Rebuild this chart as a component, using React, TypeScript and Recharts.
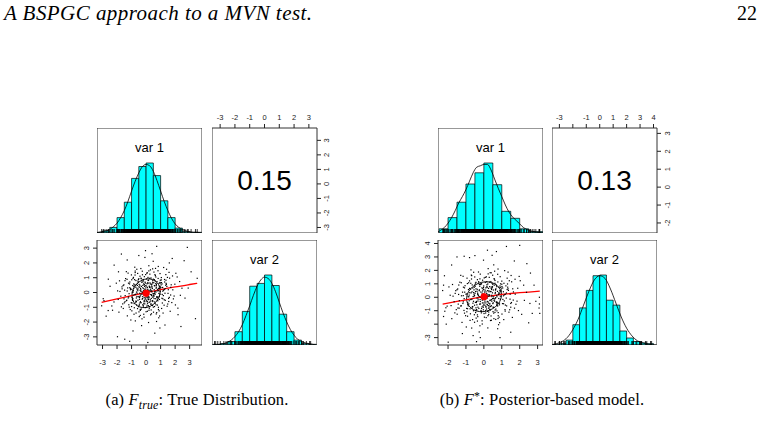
import React from 'react';
import { ComposedChart, XAxis, YAxis, Scatter, Line, ReferenceArea, ReferenceDot } from 'recharts';

type Pt = [number, number];

// ---------- shared labels ----------
const varNames = ['var 1', 'var 2'];
const headerTitle = 'A BSPGC approach to a MVN test.';
const pageNumber = '22';

// ---------- figure (a): true distribution ----------
const pointsA: Pt[] = [
  [0.12,-0.35],[-0.84,0.41],[1.27,0.88],[-0.33,-1.12],[0.56,0.19],[-1.45,-0.62],[0.08,1.34],[0.91,-0.27],[-0.62,-0.05],[1.73,0.52],
  [-0.21,0.73],[0.44,-0.88],[-1.08,0.26],[0.29,-0.14],[2.14,1.05],[-0.47,-1.63],[0.67,0.61],[-1.92,-0.47],[0.03,0.02],[1.12,-0.71],
  [-0.76,1.18],[0.38,0.44],[-0.15,-0.58],[1.51,-0.06],[-1.31,0.89],[0.82,1.47],[-0.54,-0.29],[0.17,-2.03],[-2.36,-0.91],[0.61,0.07],
  [1.02,0.33],[-0.09,-0.77],[-0.98,-1.24],[0.25,0.96],[1.88,-0.43],[-0.41,0.15],[0.73,-1.36],[-1.66,0.38],[0.49,2.11],[-0.27,-0.11],
  [0.95,0.68],[-0.68,0.54],[0.14,-0.44],[-1.19,-0.83],[1.36,1.21],[-0.02,0.31],[0.58,-0.95],[-0.89,-0.18],[2.47,0.29],[-0.36,1.62],
  [0.31,-1.51],[-1.57,-1.08],[0.86,0.12],[-0.18,0.84],[1.19,-0.21],[-0.71,-0.66],[0.06,-0.31],[1.62,0.97],[-2.05,0.63],[0.42,0.58],
  [-0.52,-0.96],[0.77,-0.52],[-0.12,1.07],[1.43,0.41],[-0.95,0.02],[0.21,-0.67],[-1.36,1.41],[0.64,1.14],[-0.31,-2.24],[1.07,-1.08],
  [-0.06,0.47],[0.52,-0.19],[-1.74,-0.25],[0.98,0.83],[-0.44,0.36],[0.35,-1.18],[2.02,-0.84],[-0.83,-1.47],[0.11,0.22],[-1.12,0.71],
  [0.69,0.29],[-0.24,-0.41],[1.56,-0.61],[-0.58,1.29],[0.27,0.65],[-1.23,-0.37],[0.88,-0.06],[-0.04,-1.02],[1.21,1.69],[-2.61,-1.22],
  [0.47,-0.33],[-0.79,0.87],[0.19,1.81],[-0.37,0.09],[1.66,-1.27],[-1.48,0.16],[0.62,-0.74],[0.01,-0.23],[-0.65,-0.84],[1.31,0.26],
  [-0.17,0.58],[0.83,0.95],[-1.02,-0.69],[0.39,0.11],[-0.49,-1.31],[2.31,0.74],[0.16,-0.89],[-0.92,0.47],[1.09,-0.39],[-0.11,-0.15],
  [0.54,1.38],[-1.61,-0.77],[0.74,-0.28],[-0.29,0.68],[1.38,0.62],[-0.73,-0.12],[0.23,0.39],[-1.29,-1.58],[0.93,-1.59],[-0.08,2.37],
  [1.84,0.18],[-0.45,-0.46],[0.33,-0.57],[-0.87,1.02],[0.71,0.36],[-1.96,0.11],[0.09,-1.27],[1.24,-0.86],[-0.55,0.24],[0.45,0.79],
  [-0.34,-0.69],[1.47,1.02],[-1.14,0.58],[0.18,0.05],[0.87,-1.71],[-0.64,1.57],[0.58,-0.08],[-2.21,-0.64],[1.03,0.51],[-0.19,-0.97],
  [0.66,-0.42],[-0.96,-0.33],[0.04,0.92],[1.69,-0.17],[-0.43,0.49],[0.37,-1.44],[-1.41,0.94],[0.8,0.21],[-0.1,-0.52],[2.68,-0.38],
  [-0.66,0.03],[0.26,1.24],[-1.05,-1.86],[1.15,0.09],[-0.23,0.32],[0.5,-0.99],[-1.83,0.79],[0.96,1.28],[-0.38,-0.23],[0.13,0.61],
  [1.32,-0.53],[-0.81,-1.03],[0.43,0.27],[-0.14,-1.67],[0.75,0.74],[-1.27,0.31],[1.98,0.56],[-0.5,0.93],[0.2,-0.36],[-0.93,-0.53],
  [0.6,0.45],[-0.26,1.44],[1.11,-0.13],[-1.7,-0.97],[0.32,-0.79],[-0.6,0.62],[0.85,-1.15],[-0.02,0.16],[1.58,1.36],[-1.17,-0.08],
  [0.41,2.62],[-0.39,-0.62],[0.99,0.38],[-0.74,-1.92],[0.15,-0.04],[1.28,0.71],[-1.53,0.52],[0.55,-0.24],[-0.3,0.79],[2.19,-1.06],
  [-0.85,0.28],[0.28,-0.48],[-0.07,0.7],[1.45,-0.93],[-1.01,1.19],[0.68,0.03],[-0.47,-0.26],[0.1,-0.73],[-2.48,0.42],[0.89,0.61],
  [-0.2,-0.88],[0.57,0.87],[-1.33,-0.52],[1.05,1.01],[-0.61,0.19],[0.3,1.53],[1.77,-0.68],[-0.97,-0.71],[0.02,0.44],[0.72,-1.96],
  [-0.42,1.1],[1.2,0.15],[-1.8,0.07],[0.46,-0.61],[-0.13,-0.35],[0.84,1.76],[-0.69,-1.39],[0.24,0.34],[1.6,-0.33],[-1.21,0.63],
  [0.05,-0.98],[-0.56,0.77],[0.92,-0.47],[-0.25,0.01],[1.35,0.49],[-1.09,-1.15],[0.36,0.55],[-0.78,1.71],[0.63,-0.11],[-0.03,1.21],
  [2.05,1.3],[-0.46,-0.79],[0.17,0.83],[-1.44,-0.21],[0.78,-0.85],[-0.16,-1.47],[1.1,0.58],[-0.88,0.13],[0.4,0.04],[-2.9,-0.55],
  [0.67,1.05],[-0.32,0.41],[1.25,-0.49],[-0.7,-0.58],[0.07,-0.6],[0.94,0.27],[-1.24,1.31],[0.51,-1.33],[-0.12,0.54],[1.53,0.19],
  [-0.59,-1.09],[0.27,0.14],[-1.58,0.47],[0.8,-0.31],[-0.05,-0.44],[1.41,1.57],[-0.91,-0.41],[0.34,0.98],[-0.4,-1.21],[1.93,-0.24],
  [0.12,0.67],[-1.07,0.19],[0.7,0.48],[-0.22,-0.82],[1.17,-1.39],[-0.53,0.88],[0.48,-0.07],[-1.87,-1.33],[0.97,0.07],[-0.16,0.26],
  [0.59,-0.64],[-0.75,1.35],[0.22,-1.07],[1.37,0.83],[-1.35,-0.55],[0.06,0.59],[0.81,-0.37],[-0.44,-0.05],[1.82,1.12],[-0.99,0.86],
  [0.33,0.36],[-0.28,-1.78],[1.06,0.67],[-0.63,0.29],[0.14,-0.26],[-1.52,-0.43],[0.65,1.63],[-0.09,-0.62],[1.49,-0.78],[-0.8,0.51],
  [0.38,-0.15],[-0.35,0.97],[2.36,-0.19],[-1.16,-0.99],[0.53,0.66],[-0.18,0.12],[0.9,-1.24],[-0.67,-0.37],[0.19,1.46],[1.14,0.34],
  [0.31,0.22],[-0.22,0.48],[0.55,-0.41],[-0.63,-0.27],[0.14,0.81],[-0.41,-0.69],[0.77,0.11],[-0.85,0.58],[0.03,-0.52],[0.46,0.67],
  [-0.12,-0.18],[0.68,-0.83],[-0.57,0.12],[0.24,-0.97],[-0.33,0.93],[0.92,0.42],[-0.94,-0.48],[0.09,0.35],[-0.27,-0.45],[0.59,0.03],
  [-0.71,0.36],[0.38,-0.21],[-0.05,0.64],[0.81,-0.56],[-0.48,-0.88],[0.18,0.15],[-0.89,0.03],[0.5,0.9],[-0.16,-0.73],[0.71,0.55],
  [-0.38,0.27],[0.27,-0.63],[-0.78,-0.15],[0.13,1.02],[-0.53,0.71],[0.96,-0.12],[-0.02,-0.36],[0.42,0.37],[-0.67,-0.61],[0.2,-0.3],
  [-0.29,0.05],[0.62,0.79],[-0.99,0.22],[0.35,-0.78],[-0.1,0.41],[0.86,0.28],[-0.45,-0.34],[0.07,-0.86],[-0.6,0.48],[0.52,-0.09],
  [-0.2,0.88],[0.74,-0.33],[-0.82,-0.75],[0.29,0.58],[-0.35,-0.12],[0.98,0.64],[-0.7,0.81],[0.16,-0.48],[-0.08,0.2],[0.45,-0.55],
  [1.15,-0.42],[-1.12,0.33],[0.61,1.21],[-0.4,-1.15],[1.25,0.2],[-1.2,-0.3],[0.2,-1.2],[-0.25,1.2],[1.05,0.85],[-1.0,-0.95],
  [0.85,-1.0],[-0.9,0.95],[1.3,-0.05],[-1.3,0.1],[0.05,1.3],[0.0,-1.3],[0.57,0.47],[-0.48,0.55],[0.36,-0.4],[-0.56,-0.52],
  [0.12,0.05],[-0.14,-0.02],[0.33,0.1],[-0.36,0.18],[0.02,-0.15],[0.22,0.43],[-0.23,-0.28],[0.48,-0.25],[-0.5,0.38],[0.08,-0.62],
  [1.4,0.55],[-1.45,0.8],[0.7,-1.45],[-0.75,1.45],[1.55,-0.4],[-1.5,-0.7],[0.45,1.6],[-0.4,-1.55],[1.7,0.35],[-1.65,0.25],
  [3.52,0.96],[2.84,3.05],[0.73,3.12],[-0.04,2.83],[-1.47,-3.16],[-1.13,-3.3],[0.12,-3.38],[-1.97,-2.99],[-2.95,-0.42],[-2.31,-1.2],
  [3.4,-1.77],[2.62,2.15],[-3.06,-0.9],[-2.2,1.85],[2.4,-2.3],[-1.7,2.6],[1.8,2.3],[-0.9,-2.6],[0.6,-2.75],[2.9,0.3],
  [-2.6,0.9],[-1.3,2.2],[1.3,-2.2],[3.1,1.4],[-0.5,2.5],[0.95,-2.4],[-2.75,-1.6],[2.2,-1.5],[-1.9,1.4],[1.6,2.0],
];
const corrA = 0.15;
const meanA: Pt = [0.0, -0.05];
const smoothA: Pt[] = [[-3.06,-0.66],[-2,-0.43],[-1,-0.21],[0,0.0],[1,0.2],[2,0.38],[3,0.54],[3.52,0.62]];
const ellipseA: Pt[] = [
  [0.758,0.758],[0.451,0.95],[0.075,0.997],[-0.312,0.893],[-0.652,0.652],[-0.893,0.312],[-0.997,-0.075],[-0.95,-0.451],
  [-0.758,-0.758],[-0.451,-0.95],[-0.075,-0.997],[0.312,-0.893],[0.652,-0.652],[0.893,-0.312],[0.997,0.075],[0.95,0.451],
];
const breaksVar1A = [-3.5,-3,-2.5,-2,-1.5,-1,-0.5,0,0.5,1,1.5,2,2.5,3,3.5,4];
const heightsVar1A = [0.01,0.03,0.08,0.22,0.44,0.78,0.95,1.0,0.82,0.46,0.22,0.07,0.02,0.01,0.01];
const densityVar1A: Pt[] = [
  [-3.5,0.0],[-3.25,0.01],[-3,0.02],[-2.75,0.03],[-2.5,0.05],[-2.25,0.09],[-2,0.14],[-1.75,0.22],[-1.5,0.32],[-1.25,0.45],
  [-1,0.6],[-0.75,0.74],[-0.5,0.86],[-0.25,0.95],[0,0.98],[0.25,0.96],[0.5,0.88],[0.75,0.75],[1,0.6],[1.25,0.45],
  [1.5,0.32],[1.75,0.21],[2,0.13],[2.25,0.08],[2.5,0.05],[2.75,0.03],[3,0.02],[3.25,0.01],[3.5,0.01],[3.8,0.0],
];
const breaksVar2A = [-3.5,-3,-2.5,-2,-1.5,-1,-0.5,0,0.5,1,1.5,2,2.5,3,3.5];
const heightsVar2A = [0.01,0.02,0.05,0.19,0.48,0.84,0.88,1.0,0.85,0.44,0.19,0.07,0.02,0.01];
const densityVar2A: Pt[] = [
  [-3.5,0.0],[-3,0.01],[-2.75,0.02],[-2.5,0.04],[-2.25,0.07],[-2,0.12],[-1.75,0.19],[-1.5,0.29],[-1.25,0.42],[-1,0.56],
  [-0.75,0.71],[-0.5,0.84],[-0.25,0.93],[0,0.97],[0.25,0.95],[0.5,0.88],[0.75,0.76],[1,0.61],[1.25,0.46],[1.5,0.33],
  [1.75,0.22],[2,0.14],[2.25,0.08],[2.5,0.05],[2.75,0.03],[3,0.02],[3.25,0.01],[3.5,0.0],
];
const ticksVar1A = [-3,-2,-1,0,1,2,3];
const ticksVar2A = [-3,-2,-1,0,1,2,3];
const captionA = { tag: '(a)', sym: 'F', sub: 'true', sup: '', text: ': True Distribution.' };

// ---------- figure (b): posterior-based model ----------
const pointsB: Pt[] = [
  [0.25,-0.62],[-0.71,0.33],[1.12,1.04],[-0.42,-0.91],[0.63,0.27],[-1.38,-0.81],[0.14,1.52],[0.87,-0.44],[-0.55,0.08],[1.61,0.63],
  [-0.18,0.95],[0.51,-1.07],[-1.15,0.12],[0.36,-0.21],[2.03,1.23],[-0.52,-1.86],[0.72,0.79],[-1.83,-0.62],[0.09,0.17],[1.18,-0.92],
  [-0.69,1.36],[0.43,0.58],[-0.1,-0.71],[1.46,-0.14],[-1.26,1.08],[0.77,1.71],[-0.47,-0.38],[0.22,-2.28],[-2.18,-1.04],[0.66,-0.03],
  [0.97,0.47],[-0.03,-0.93],[-0.91,-1.41],[0.31,1.13],[1.79,-0.52],[-0.35,0.24],[0.79,-1.58],[-1.57,0.49],[0.55,2.41],[-0.21,-0.17],
  [0.9,0.84],[-0.62,0.69],[0.19,-0.55],[-1.11,-0.98],[1.3,1.42],[0.04,0.39],[0.62,-1.12],[-0.82,-0.26],[2.38,0.37],[-0.3,1.88],
  [0.37,-1.73],[-1.49,-1.26],[0.81,0.2],[-0.13,1.01],[1.14,-0.27],[-0.65,-0.79],[0.11,-0.42],[1.55,1.15],[-1.95,0.77],[0.47,0.71],
  [-0.46,-1.14],[0.73,-0.63],[-0.07,1.27],[1.37,0.51],[-0.88,0.04],[0.26,-0.81],[-1.29,1.63],[0.59,1.35],[-0.26,-2.58],[1.01,-1.25],
  [-0.01,0.57],[0.57,-0.24],[-1.66,-0.33],[0.93,1.0],[-0.38,0.45],[0.4,-1.39],[1.93,-0.99],[-0.77,-1.72],[0.16,0.28],[-1.05,0.86],
  [0.64,0.36],[-0.19,-0.5],[1.5,-0.74],[-0.51,1.51],[0.32,0.79],[-1.17,-0.46],[0.83,-0.09],[0.01,-1.21],[1.16,1.98],[-2.25,-1.43],
  [0.52,-0.41],[-0.73,1.04],[0.24,2.13],[-0.31,0.13],[1.59,-1.5],[-1.41,0.21],[0.67,-0.88],[0.06,-0.29],[-0.58,-1.0],[1.26,0.32],
  [-0.11,0.7],[0.78,1.14],[-0.96,-0.83],[0.44,0.15],[-0.43,-1.55],[2.22,0.9],[0.21,-1.05],[-0.86,0.57],[1.04,-0.47],[-0.06,-0.19],
  [0.49,1.64],[-1.54,-0.92],[0.7,-0.35],[-0.23,0.82],[1.33,0.75],[-0.67,-0.15],[0.28,0.48],[-1.22,-1.87],[0.88,-1.89],[-0.02,2.76],
  [1.75,0.23],[-0.39,-0.56],[0.38,-0.69],[-0.8,1.22],[0.76,0.44],[-1.88,0.15],[0.13,-1.51],[1.19,-1.03],[-0.49,0.3],[0.5,0.95],
  [-0.28,-0.83],[1.42,1.23],[-1.08,0.7],[0.23,0.07],[0.82,-2.04],[-0.57,1.86],[0.63,-0.1],[-2.12,-0.78],[0.98,0.62],[-0.14,-1.16],
  [0.71,-0.51],[-0.9,-0.4],[0.08,1.1],[1.64,-0.21],[-0.37,0.59],[0.42,-1.71],[-1.34,1.12],[0.85,0.26],[-0.04,-0.63],[2.57,-0.46],
  [-0.6,0.05],[0.3,1.48],[-0.98,-2.21],[1.09,0.11],[-0.17,0.39],[0.55,-1.18],[-1.75,0.95],[0.91,1.53],[-0.33,-0.28],[0.18,0.73],
  [1.27,-0.64],[-0.75,-1.23],[0.48,0.33],[-0.09,-1.99],[0.7,0.89],[-1.19,0.38],[1.89,0.67],[-0.44,1.11],[0.25,-0.43],[-0.87,-0.64],
  [0.65,0.54],[-0.2,1.72],[1.06,-0.16],[-1.62,-1.16],[0.36,-0.95],[-0.54,0.74],[0.8,-1.37],[0.03,0.19],[1.52,1.62],[-1.1,-0.1],
  [0.46,3.12],[-0.33,-0.74],[0.94,0.46],[-0.68,-2.29],[0.2,-0.05],[1.23,0.85],[-1.46,0.62],[0.6,-0.29],[-0.25,0.95],[2.11,-1.27],
  [-0.79,0.34],[0.33,-0.57],[-0.01,0.84],[1.4,-1.11],[-0.94,1.42],[0.73,0.04],[-0.41,-0.31],[0.15,-0.87],[-2.3,0.5],[0.84,0.73],
  [-0.14,-1.05],[0.62,1.04],[-1.27,-0.62],[1.0,1.2],[-0.55,0.23],[0.35,1.83],[1.71,-0.81],[-0.91,-0.85],[0.07,0.53],[0.77,-2.34],
  [-0.36,1.31],[1.15,0.18],[-1.72,0.08],[0.51,-0.73],[-0.08,-0.42],[0.79,2.1],[-0.63,-1.66],[0.29,0.41],[1.54,-0.39],[-1.14,0.75],
  [0.1,-1.17],[-0.5,0.92],[0.87,-0.56],[-0.19,0.01],[1.3,0.58],[-1.02,-1.37],[0.41,0.66],[-0.72,2.04],[0.58,-0.13],[0.02,1.44],
  [1.97,1.55],[-0.4,-0.94],[0.22,0.99],[-1.37,-0.25],[0.73,-1.01],[-0.1,-1.75],[1.05,0.69],[-0.82,0.16],[0.45,0.05],[-2.05,-0.66],
  [0.62,1.25],[-0.26,0.49],[1.2,-0.58],[-0.64,-0.69],[0.12,-0.72],[0.89,0.32],[-1.16,1.56],[0.56,-1.59],[-0.06,0.64],[1.47,0.23],
  [-0.53,-1.3],[0.32,0.17],[-1.5,0.56],[0.75,-0.37],[0.0,-0.52],[1.35,1.87],[-0.84,-0.49],[0.39,1.17],[-0.34,-1.44],[1.85,-0.29],
  [0.17,0.8],[-1.0,0.23],[0.65,0.57],[-0.16,-0.98],[1.11,-1.66],[-0.47,1.05],[0.53,-0.08],[-1.79,-1.59],[0.92,0.08],[-0.1,0.31],
  [0.54,-0.76],[-0.68,1.61],[0.27,-1.28],[1.32,0.99],[-1.28,-0.66],[0.11,0.7],[0.76,-0.44],[-0.38,-0.06],[1.74,1.34],[-0.92,1.02],
  [0.38,0.43],[-0.22,-2.12],[1.01,0.8],[-0.57,0.35],[0.19,-0.31],[-1.43,-0.51],[0.6,1.94],[-0.03,-0.74],[1.44,-0.93],[-0.74,0.61],
  [0.43,-0.18],[-0.29,1.16],[2.26,-0.23],[-1.08,-1.18],[0.48,0.79],[-0.12,0.14],[0.85,-1.48],[-0.61,-0.44],[0.24,1.74],[1.09,0.41],
  [0.28,0.19],[-0.25,0.55],[0.5,-0.47],[-0.58,-0.3],[0.17,0.93],[-0.44,-0.78],[0.72,0.14],[-0.8,0.66],[0.06,-0.6],[0.41,0.76],
  [-0.09,-0.21],[0.63,-0.95],[-0.52,0.14],[0.27,-1.1],[-0.3,1.06],[0.88,0.48],[-0.9,-0.55],[0.12,0.4],[-0.24,-0.51],[0.55,0.04],
  [-0.66,0.41],[0.34,-0.24],[-0.02,0.73],[0.77,-0.64],[-0.45,-1.0],[0.21,0.17],[-0.84,0.04],[0.46,1.03],[-0.13,-0.83],[0.67,0.63],
  [-0.35,0.31],[0.3,-0.72],[-0.73,-0.17],[0.16,1.16],[-0.49,0.81],[0.92,-0.14],[0.01,-0.41],[0.39,0.42],[-0.62,-0.7],[0.23,-0.34],
  [-0.26,0.06],[0.58,0.9],[-0.95,0.25],[0.32,-0.89],[-0.07,0.47],[0.82,0.32],[-0.42,-0.39],[0.1,-0.98],[-0.55,0.55],[0.48,-0.1],
  [-0.17,1.0],[0.7,-0.38],[-0.77,-0.86],[0.26,0.66],[-0.32,-0.14],[0.94,0.73],[-0.65,0.92],[0.19,-0.55],[-0.05,0.23],[0.42,-0.63],
  [1.1,-0.48],[-1.07,0.38],[0.57,1.38],[-0.36,-1.31],[1.2,0.23],[-1.15,-0.34],[0.23,-1.37],[-0.22,1.37],[1.0,0.97],[-0.95,-1.08],
  [0.8,-1.14],[-0.85,1.08],[1.25,-0.06],[-1.25,0.11],[0.08,1.48],[0.03,-1.48],[0.53,0.54],[-0.44,0.63],[0.33,-0.46],[-0.52,-0.59],
  [0.14,0.06],[-0.11,-0.02],[0.3,0.11],[-0.33,0.21],[0.05,-0.17],[0.2,0.49],[-0.2,-0.32],[0.44,-0.29],[-0.46,0.43],[0.11,-0.71],
  [1.35,0.63],[-1.4,0.91],[0.66,-1.65],[-0.7,1.65],[1.5,-0.46],[-1.45,-0.8],[0.41,1.82],[-0.36,-1.77],[1.65,0.4],[-1.6,0.29],
  [3.1,0.0],[3.1,-0.5],[3.12,-1.2],[3.08,-0.8],[1.26,3.78],[2.0,3.86],[-1.5,3.0],[-1.1,3.05],[-0.8,2.95],[-0.5,3.1],
  [-1.99,-3.34],[-0.41,-3.3],[-0.6,-2.85],[0.9,-3.0],[-2.2,1.6],[-2.1,-2.0],[2.6,1.8],[2.5,-1.9],[2.8,0.9],[2.9,-0.3],
  [-1.8,2.4],[1.7,2.7],[0.2,3.5],[-2.25,0.9],[2.4,2.5],[-1.2,-2.7],[1.5,-2.6],[2.7,-1.2],[-0.2,-3.0],[0.7,3.4],
];
const corrB = 0.13;
const meanB: Pt = [0.01, 0.04];
const smoothB: Pt[] = [[-2.3,-0.51],[-1.5,-0.31],[-1,-0.19],[-0.5,-0.07],[0,0.04],[0.5,0.13],[1,0.21],[1.5,0.28],[2,0.34],[2.5,0.39],[3.12,0.46]];
const ellipseB: Pt[] = [
  [0.751,0.856],[0.441,1.08],[0.065,1.138],[-0.322,1.023],[-0.66,0.753],[-0.897,0.367],[-0.998,-0.074],[-0.947,-0.503],
  [-0.751,-0.856],[-0.441,-1.08],[-0.065,-1.138],[0.322,-1.023],[0.66,-0.753],[0.897,-0.367],[0.998,0.074],[0.947,0.503],
];
const breaksVar1B = [-2.5,-2,-1.5,-1,-0.5,0,0.5,1,1.5,2,2.5,3,3.5];
const heightsVar1B = [0.06,0.22,0.44,0.7,0.86,1.0,0.69,0.31,0.21,0.06,0.02,0.02];
const densityVar1B: Pt[] = [
  [-2.6,0.01],[-2.4,0.04],[-2.2,0.08],[-2,0.14],[-1.8,0.22],[-1.6,0.32],[-1.4,0.43],[-1.2,0.52],[-1,0.62],[-0.8,0.74],
  [-0.6,0.86],[-0.4,0.94],[-0.2,0.96],[0,0.98],[0.2,0.98],[0.4,0.9],[0.6,0.77],[0.8,0.64],[1,0.52],[1.2,0.4],
  [1.4,0.3],[1.6,0.23],[1.8,0.18],[2,0.13],[2.2,0.08],[2.4,0.05],[2.6,0.03],[2.8,0.02],[3,0.01],[3.3,0.0],
];
const breaksVar2B = [-3.5,-3,-2.5,-2,-1.5,-1,-0.5,0,0.5,1,1.5,2,2.5,3,3.5,4];
const heightsVar2B = [0.01,0.02,0.07,0.29,0.53,0.78,0.99,1.0,0.64,0.57,0.2,0.1,0.05,0.03,0.02];
const densityVar2B: Pt[] = [
  [-3.6,0.0],[-3.2,0.02],[-2.8,0.05],[-2.4,0.11],[-2,0.22],[-1.6,0.37],[-1.2,0.57],[-0.8,0.77],[-0.4,0.93],[0,0.99],
  [0.4,0.95],[0.8,0.8],[1.2,0.6],[1.6,0.4],[2,0.24],[2.4,0.13],[2.8,0.06],[3.2,0.03],[3.6,0.01],[4.2,0.0],
];
const ticksVar1B = [-2,-1,0,1,2,3];
const ticksVar2B = [-3,-2,-1,0,1,2,3,4];
const captionB = { tag: '(b)', sym: 'F', sub: '', sup: '*', text: ': Posterior-based model.' };

// ---------- styling ----------
const S = 105;            // side of every panel
const AX = 26;            // room reserved for an outer axis
const CYAN = '#00FFFF';
const BOX = '#333';
const SANS = '"Liberation Sans", Arial, Helvetica, sans-serif';
const SERIF = '"Liberation Serif", "Times New Roman", serif';

const tickLabel = (v: number) => (v < 0 ? '-' + Math.abs(v) : String(v));

function hTick(yPos: number, hidden: number[]) {
  return (props: any) => {
    const v = props.payload.value;
    if (hidden.includes(v)) return <g />;
    return (
      <text x={props.x} y={yPos} textAnchor="middle" dominantBaseline="central"
        fontFamily={SANS} fontSize={7.5} fill="#222">{tickLabel(v)}</text>
    );
  };
}

function vTick(xPos: number, hidden: number[]) {
  return (props: any) => {
    const v = props.payload.value;
    if (hidden.includes(v)) return <g />;
    return (
      <text x={xPos} y={props.y} transform={`rotate(-90 ${xPos} ${props.y})`} textAnchor="middle"
        dominantBaseline="central" fontFamily={SANS} fontSize={7.5} fill="#222">{tickLabel(v)}</text>
    );
  };
}

const PointShape = (p: any) => <rect x={p.cx - 0.6} y={p.cy - 0.6} width={1.2} height={1.2} fill="#000" />;
const RugShape = (p: any) => <line x1={p.cx} x2={p.cx} y1={p.cy} y2={p.cy - 4} stroke="#000" strokeWidth={0.8} />;

const toXY = (pts: Pt[]) => pts.map(([x, y]) => ({ x, y }));

function HistPanel(props: {
  left: number; top: number; domain: [number, number]; breaks: number[]; heights: number[];
  density: Pt[]; rug: number[]; label: string;
}) {
  const { left, top, domain, breaks, heights, density, rug, label } = props;
  const bins = heights.map((h, i) => ({ x0: breaks[i], x1: breaks[i + 1], h }));
  const rugPts = rug.map((v) => ({ x: v, y: 0 }));
  return (
    <div style={{ position: 'absolute', left, top, width: S, height: S }}>
      <ComposedChart width={S} height={S} margin={{ top: 0, right: 0, bottom: 0, left: 0 }}>
        <XAxis type="number" dataKey="x" domain={domain} allowDataOverflow hide />
        <YAxis type="number" dataKey="y" domain={[0, 1.5]} allowDataOverflow hide />
        {bins.map((b, i) => (
          <ReferenceArea key={i} x1={b.x0} x2={b.x1} y1={0} y2={b.h} fill={CYAN} fillOpacity={1}
            stroke="#000" strokeWidth={0.7} ifOverflow="hidden" />
        ))}
        <Line data={toXY(density)} dataKey="y" type="monotone" stroke="#000" strokeWidth={0.8}
          dot={false} isAnimationActive={false} />
        <Scatter data={rugPts} shape={RugShape} isAnimationActive={false} />
        <ReferenceArea x1={domain[0]} x2={domain[1]} y1={0} y2={1.5} fill="none" fillOpacity={0}
          stroke={BOX} strokeWidth={1} />
      </ComposedChart>
      <div style={{ position: 'absolute', left: 0, top: 13, width: S, textAlign: 'center', fontFamily: SANS,
        fontSize: 13, lineHeight: '13px', color: '#000' }}>{label}</div>
    </div>
  );
}

function CorPanel(props: {
  left: number; top: number; domX: [number, number]; domY: [number, number]; ticksX: number[]; ticksY: number[];
  hideX: number[]; hideY: number[]; corr: number; rightGap: number;
}) {
  const { left, top, domX, domY, ticksX, ticksY, hideX, hideY, corr, rightGap } = props;
  return (
    <div style={{ position: 'absolute', left, top: top - AX, width: S + AX, height: S + AX }}>
      <ComposedChart width={S + AX} height={S + AX} margin={{ top: 0, right: 0, bottom: 0, left: 0 }}>
        <XAxis type="number" dataKey="x" orientation="top" height={AX} domain={domX} allowDataOverflow
          ticks={ticksX} interval={0} tickSize={4} tickLine={{ stroke: '#222' }} axisLine={false}
          tick={hTick(AX - 11, hideX)} />
        <YAxis type="number" dataKey="y" orientation="right" width={AX} domain={domY} allowDataOverflow
          ticks={ticksY} interval={0} tickSize={4} tickLine={{ stroke: '#222' }} axisLine={false}
          tick={vTick(S + rightGap, hideY)} />
        <ReferenceArea x1={domX[0]} x2={domX[1]} y1={domY[0]} y2={domY[1]} fill="none" fillOpacity={0}
          stroke={BOX} strokeWidth={1} />
      </ComposedChart>
      <div style={{ position: 'absolute', left: 0, top: AX + 39, width: S, textAlign: 'center', fontFamily: SANS,
        fontSize: 28, lineHeight: '28px', color: '#000' }}>{corr.toFixed(2)}</div>
    </div>
  );
}

function ScatterPanel(props: {
  left: number; top: number; domX: [number, number]; domY: [number, number]; ticksX: number[]; ticksY: number[];
  hideX: number[]; hideY: number[]; points: Pt[]; ellipse: Pt[]; smooth: Pt[]; mean: Pt;
}) {
  const { left, top, domX, domY, ticksX, ticksY, hideX, hideY, points, ellipse, smooth, mean } = props;
  const ell = ellipse.map(([dx, dy]) => ({ x: mean[0] + dx, y: mean[1] + dy }));
  return (
    <div style={{ position: 'absolute', left: left - AX, top, width: S + AX, height: S + AX }}>
      <ComposedChart width={S + AX} height={S + AX} margin={{ top: 0, right: 0, bottom: 0, left: 0 }}>
        <XAxis type="number" dataKey="x" orientation="bottom" height={AX} domain={domX} allowDataOverflow
          ticks={ticksX} interval={0} tickSize={4} tickLine={{ stroke: '#222' }} axisLine={false}
          tick={hTick(S + 17, hideX)} />
        <YAxis type="number" dataKey="y" orientation="left" width={AX} domain={domY} allowDataOverflow
          ticks={ticksY} interval={0} tickSize={4} tickLine={{ stroke: '#222' }} axisLine={false}
          tick={vTick(AX - 10.5, hideY)} />
        <Scatter data={toXY(points)} shape={PointShape} isAnimationActive={false} />
        <Line data={ell} dataKey="y" type="basisClosed" stroke="#111" strokeWidth={1} dot={false}
          isAnimationActive={false} />
        <Line data={toXY(smooth)} dataKey="y" type="monotone" stroke="#FF0000" strokeWidth={1.3} dot={false}
          isAnimationActive={false} />
        <ReferenceDot x={mean[0]} y={mean[1]} r={3.2} fill="#FF0000" stroke="#FF0000" />
        <ReferenceArea x1={domX[0]} x2={domX[1]} y1={domY[0]} y2={domY[1]} fill="none" fillOpacity={0}
          stroke={BOX} strokeWidth={1} />
      </ComposedChart>
    </div>
  );
}

function PairsFigure(props: {
  colX: [number, number]; rowY: [number, number]; dom1: [number, number]; dom2: [number, number];
  ticks1: number[]; ticks2: number[]; hide2: number[]; points: Pt[]; ellipse: Pt[]; smooth: Pt[]; mean: Pt;
  corr: number; breaks1: number[]; heights1: number[]; density1: Pt[]; breaks2: number[]; heights2: number[];
  density2: Pt[]; rightGap: number;
}) {
  const p = props;
  return (
    <>
      <HistPanel left={p.colX[0]} top={p.rowY[0]} domain={p.dom1} breaks={p.breaks1} heights={p.heights1}
        density={p.density1} rug={p.points.map((d) => d[0])} label={varNames[0]} />
      <CorPanel left={p.colX[1]} top={p.rowY[0]} domX={p.dom2} domY={p.dom1} ticksX={p.ticks2} ticksY={p.ticks1}
        hideX={p.hide2} hideY={[]} corr={p.corr} rightGap={p.rightGap} />
      <ScatterPanel left={p.colX[0]} top={p.rowY[1]} domX={p.dom1} domY={p.dom2} ticksX={p.ticks1} ticksY={p.ticks2}
        hideX={[]} hideY={p.hide2} points={p.points} ellipse={p.ellipse} smooth={p.smooth} mean={p.mean} />
      <HistPanel left={p.colX[1]} top={p.rowY[1]} domain={p.dom2} breaks={p.breaks2} heights={p.heights2}
        density={p.density2} rug={p.points.map((d) => d[1])} label={varNames[1]} />
    </>
  );
}

function Caption(props: { cx: number; top: number; c: typeof captionA }) {
  const { cx, top, c } = props;
  return (
    <div style={{ position: 'absolute', left: cx - 160, top, width: 320, textAlign: 'center', fontFamily: SERIF,
      fontSize: 16.5, lineHeight: '18px', letterSpacing: '0.15px', color: '#000', whiteSpace: 'nowrap' }}>
      {c.tag} <i>{c.sym}</i>
      {c.sub && <span style={{ fontSize: '0.72em', fontStyle: 'italic', position: 'relative', top: '0.3em' }}>{c.sub}</span>}
      {c.sup && <span style={{ fontSize: '0.72em', position: 'relative', top: '-0.45em' }}>{c.sup}</span>}
      {c.text}
    </div>
  );
}

export default function App() {
  return (
    <div style={{ position: 'absolute', left: 0, top: 0, width: 761, height: 434, background: '#fff', overflow: 'hidden' }}>
      <div style={{ position: 'absolute', left: 4, top: 1, fontFamily: SERIF, fontStyle: 'italic', fontSize: 21,
        lineHeight: '24px', letterSpacing: '0.45px', color: '#000', whiteSpace: 'nowrap' }}>{headerTitle}</div>
      <div style={{ position: 'absolute', left: 737, top: 1, fontFamily: SERIF, fontSize: 20, lineHeight: '24px',
        color: '#000' }}>{pageNumber}</div>

      <PairsFigure colX={[97, 212]} rowY={[128, 240]} dom1={[-3.38, 3.85]} dom2={[-3.55, 3.55]}
        ticks1={ticksVar1A} ticks2={ticksVar2A} hide2={[]} points={pointsA} ellipse={ellipseA} smooth={smoothA}
        mean={meanA} corr={corrA} breaks1={breaksVar1A} heights1={heightsVar1A} density1={densityVar1A}
        breaks2={breaksVar2A} heights2={heightsVar2A} density2={densityVar2A} rightGap={9.5} />

      <PairsFigure colX={[438, 552]} rowY={[128, 240]} dom1={[-2.56, 3.3]} dom2={[-3.55, 4.26]}
        ticks1={ticksVar1B} ticks2={ticksVar2B} hide2={[-2]} points={pointsB} ellipse={ellipseB} smooth={smoothB}
        mean={meanB} corr={corrB} breaks1={breaksVar1B} heights1={heightsVar1B} density1={densityVar1B}
        breaks2={breaksVar2B} heights2={heightsVar2B} density2={densityVar2B} rightGap={11} />

      <Caption cx={197} top={391} c={captionA} />
      <Caption cx={542} top={391} c={captionB} />
    </div>
  );
}
